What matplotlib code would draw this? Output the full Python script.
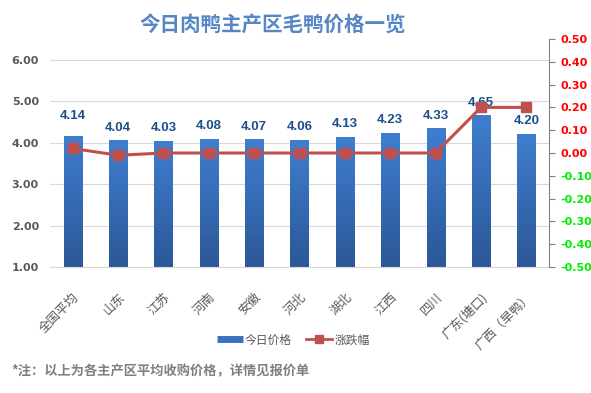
import numpy as np
import matplotlib
matplotlib.use('Agg')
import matplotlib.pyplot as plt
from matplotlib.lines import Line2D

plt.rcParams['font.family'] = ['Noto Sans CJK SC', 'DejaVu Sans']

categories = ['全国平均', '山东', '江苏', '河南', '安徽', '河北', '湖北', '江西', '四川', '广东(塘口)', '广西（旱鸭）']
prices = [4.14, 4.04, 4.03, 4.08, 4.07, 4.06, 4.13, 4.23, 4.33, 4.65, 4.20]
changes = [0.02, -0.01, 0.00, 0.00, 0.00, 0.00, 0.00, 0.00, 0.00, 0.20, 0.20]
left_ticks = [1, 2, 3, 4, 5, 6]
right_ticks = [-0.5, -0.4, -0.3, -0.2, -0.1, 0.0, 0.1, 0.2, 0.3, 0.4, 0.5]

fig = plt.figure(figsize=(5.91, 3.93), dpi=100, facecolor='white')
ax = fig.add_axes([0.0846, 0.3206, 0.8444, 0.5802])
ax2 = ax.twinx()

x = np.arange(len(categories))
w = 0.4
ymin, ymax = 1.0, 6.5

# бар с градиент
grad = np.linspace(0, 1, 256).reshape(-1, 1)
cmap = matplotlib.colors.LinearSegmentedColormap.from_list('b', ['#2b5797', '#3f7ecf'])
for i, (xi, v) in enumerate(zip(x, prices)):
    ax.imshow(grad, extent=(xi - w / 2, xi + w / 2, ymin, v), origin='lower',
              cmap=cmap, aspect='auto', zorder=2)
    off = 11 if i == 0 else 5
    ax.annotate(f'{v:.2f}', (xi, v), xytext=(0, off), textcoords='offset points',
                ha='center', va='bottom', fontsize=9.5, fontweight='bold',
                color='#1f4e8c', zorder=5, family=['Liberation Sans'])

ax.set_xlim(-0.5, len(categories) - 0.5)
ax.set_ylim(ymin, ymax)
ax.set_yticks(left_ticks)
ax.set_yticklabels([f'{t:.2f}' for t in left_ticks], fontsize=8, fontweight='bold', color='#595959',
                   family=['DejaVu Sans'])
ax.grid(axis='y', color='#d9d9d9', lw=0.8, zorder=0)
ax.set_axisbelow(True)
ax.tick_params(axis='y', length=0, pad=8)
ax.set_xticks(x)
ax.set_xticklabels(categories, rotation=45, ha='right', rotation_mode='anchor',
                   fontsize=9, color='#595959')
ax.tick_params(axis='x', length=0, pad=17)
for s in ['top', 'left', 'right']:
    ax.spines[s].set_visible(False)
ax.spines['bottom'].set_color('#d9d9d9')

ax2.plot(x, changes, color='#c0504d', lw=2.2, marker='s', markersize=7, zorder=4)
ax2.set_ylim(-0.5, 0.5)
ax2.set_yticks(right_ticks)
ax2.set_yticklabels([f'{t:.2f}' for t in right_ticks], fontsize=8, fontweight='bold',
                    family=['DejaVu Sans'])
for t, lab in zip(right_ticks, ax2.get_yticklabels()):
    lab.set_color('#ff0000' if t >= -0.001 else '#00ee00')
ax2.tick_params(axis='y', length=4, color='#808080', pad=4)
for s in ['top', 'left', 'bottom']:
    ax2.spines[s].set_visible(False)
ax2.spines['right'].set_color('#808080')

fig.text(0.462, 0.937, '今日肉鸭主产区毛鸭价格一览', ha='center', va='center',
         fontsize=14.8, fontweight='bold', color='#5687c4')

handles = [Line2D([0], [0], color='#3a72bf', lw=5, solid_capstyle='butt'),
           Line2D([0], [0], color='#c0504d', lw=2, marker='s', markersize=6)]
fig.legend(handles, ['今日价格', '涨跌幅'], loc='center', bbox_to_anchor=(0.496, 0.135),
           ncol=2, frameon=False, fontsize=8.5, labelcolor='#595959',
           handlelength=2.2, handletextpad=0.2, columnspacing=1.2)

fig.text(0.019, 0.055, '*注：以上为各主产区平均收购价格，详情见报价单', ha='left', va='center',
         fontsize=9.5, fontweight='bold', color='#7f7f7f')

fig.savefig('out.png', dpi=100, facecolor='white')
